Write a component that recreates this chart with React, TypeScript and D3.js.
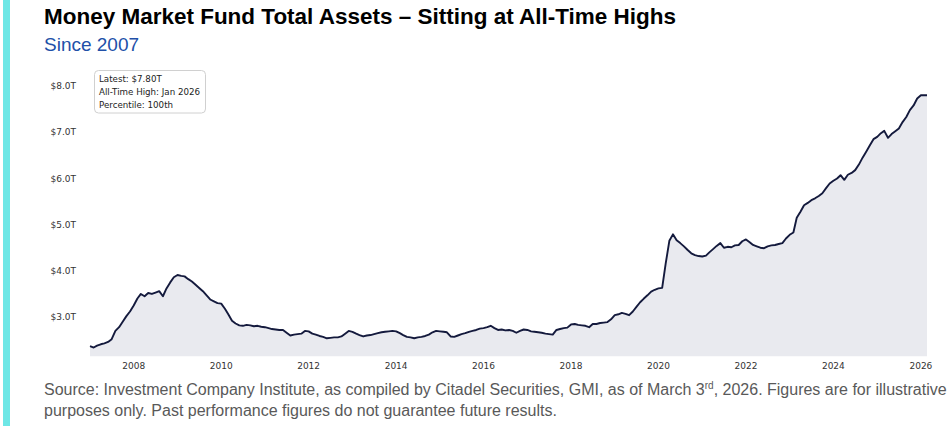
import React, { useEffect, useRef } from 'react';
import * as d3 from 'd3';

// Money market fund total assets, $T, month-end readings Jan 2007 – Feb 2026
const startMonth = '2007-01';
const assets = [
  2.37, 2.34, 2.38, 2.41, 2.43, 2.46, 2.52, 2.70, 2.78, 2.90, 3.02, 3.12, // 2007
  3.25, 3.40, 3.50, 3.45, 3.52, 3.50, 3.53, 3.56, 3.45, 3.62, 3.75, 3.86, // 2008
  3.91, 3.89, 3.88, 3.82, 3.77, 3.70, 3.63, 3.56, 3.47, 3.38, 3.34, 3.30, // 2009
  3.29, 3.18, 3.06, 2.92, 2.86, 2.82, 2.81, 2.83, 2.82, 2.80, 2.81, 2.79, // 2010
  2.78, 2.76, 2.74, 2.73, 2.72, 2.72, 2.66, 2.60, 2.62, 2.63, 2.64, 2.70, // 2011
  2.69, 2.64, 2.62, 2.59, 2.57, 2.54, 2.55, 2.56, 2.56, 2.58, 2.64, 2.70, // 2012
  2.68, 2.64, 2.61, 2.58, 2.60, 2.61, 2.63, 2.65, 2.67, 2.68, 2.69, 2.70, // 2013
  2.69, 2.65, 2.61, 2.57, 2.56, 2.54, 2.56, 2.57, 2.59, 2.62, 2.67, 2.70, // 2014
  2.69, 2.68, 2.67, 2.58, 2.57, 2.60, 2.63, 2.65, 2.68, 2.70, 2.72, 2.75, // 2015
  2.76, 2.78, 2.81, 2.76, 2.72, 2.73, 2.71, 2.72, 2.70, 2.66, 2.70, 2.73, // 2016
  2.72, 2.69, 2.68, 2.67, 2.66, 2.64, 2.63, 2.62, 2.72, 2.74, 2.76, 2.77, // 2017
  2.84, 2.85, 2.83, 2.82, 2.81, 2.78, 2.85, 2.85, 2.87, 2.88, 2.89, 2.95, // 2018
  3.04, 3.06, 3.09, 3.07, 3.04, 3.12, 3.22, 3.32, 3.40, 3.47, 3.55, 3.59, // 2019
  3.62, 3.63, 4.15, 4.65, 4.79, 4.66, 4.60, 4.53, 4.45, 4.38, 4.34, 4.32, // 2020
  4.31, 4.33, 4.40, 4.47, 4.54, 4.60, 4.50, 4.52, 4.51, 4.55, 4.56, 4.64, // 2021
  4.68, 4.62, 4.56, 4.53, 4.50, 4.49, 4.53, 4.55, 4.56, 4.58, 4.60, 4.70, // 2022
  4.78, 4.83, 5.15, 5.28, 5.42, 5.47, 5.53, 5.57, 5.62, 5.68, 5.79, 5.89, // 2023
  5.95, 6.00, 6.07, 5.97, 6.08, 6.12, 6.18, 6.30, 6.45, 6.58, 6.72, 6.85, // 2024
  6.90, 6.98, 7.03, 6.88, 6.96, 7.02, 7.08, 7.22, 7.33, 7.48, 7.58, 7.73, // 2025
  7.80, 7.80, // 2026
];

const yTicks = [3, 4, 5, 6, 7, 8];
const xTickYears = [2008, 2010, 2012, 2014, 2016, 2018, 2020, 2022, 2024, 2026];
const statLines = ['Latest: $7.80T', 'All-Time High: Jan 2026', 'Percentile: 100th'];

const title = 'Money Market Fund Total Assets \u2013 Sitting at All-Time Highs';
const subtitle = 'Since 2007';
const footer1 = 'Source: Investment Company Institute, as compiled by Citadel Securities, GMI, as of March 3';
const footer2 = 'purposes only. Past performance figures do not guarantee future results.';

const W = 949;
const H = 426;
const tickFont = '"DejaVu Sans", sans-serif';
const textFont = '"Liberation Sans", Arial, sans-serif';

const App: React.FC = () => {
  const svgRef = useRef<SVGSVGElement>(null);

  useEffect(() => {
    if (!svgRef.current) return;
    const svg = d3.select(svgRef.current);
    svg.selectAll('*').remove();

    const start = d3.timeParse('%Y-%m')(startMonth)!;
    const data = assets.map((v, i) => ({ date: d3.timeMonth.offset(start, i), value: v }));
    const lastDate = d3.timeDay.offset(data[data.length - 1].date, 20);
    data[data.length - 1] = { ...data[data.length - 1], date: lastDate };

    const x = d3.scaleTime()
      .domain([start, lastDate])
      .range([90, 927]);
    const y = d3.scaleLinear()
      .domain([2.15, 8.25])
      .range([356.3, 74.5]);

    // accent bar
    svg.append('rect')
      .attr('x', 3).attr('y', 0)
      .attr('width', 7).attr('height', H)
      .attr('fill', '#6ee7e6');

    svg.append('text')
      .attr('x', 44).attr('y', 24)
      .attr('font-family', textFont)
      .attr('font-weight', 700)
      .attr('font-size', 22)
      .attr('textLength', 632)
      .attr('lengthAdjust', 'spacingAndGlyphs')
      .attr('fill', '#000')
      .text(title);

    svg.append('text')
      .attr('x', 44).attr('y', 51)
      .attr('font-family', textFont)
      .attr('font-size', 19)
      .attr('fill', '#2150a8')
      .text(subtitle);

    const area = d3.area<{ date: Date; value: number }>()
      .x(d => x(d.date))
      .y0(y(2.15))
      .y1(d => y(d.value));
    const line = d3.line<{ date: Date; value: number }>()
      .x(d => x(d.date))
      .y(d => y(d.value));

    svg.append('path')
      .datum(data)
      .attr('d', area)
      .attr('fill', '#e9eaef');

    svg.append('path')
      .datum(data)
      .attr('d', line)
      .attr('fill', 'none')
      .attr('stroke', '#141a3d')
      .attr('stroke-width', 1.9)
      .attr('stroke-linejoin', 'round');

    // y tick labels
    svg.append('g')
      .selectAll('text')
      .data(yTicks)
      .join('text')
      .attr('x', 76)
      .attr('y', d => y(d))
      .attr('dy', '0.35em')
      .attr('text-anchor', 'end')
      .attr('font-family', tickFont)
      .attr('font-size', 9)
      .attr('fill', '#333')
      .text(d => `$${d.toFixed(1)}T`);

    // x tick labels
    svg.append('g')
      .selectAll('text')
      .data(xTickYears)
      .join('text')
      .attr('x', d => x(new Date(d, 0, 1)))
      .attr('y', 369)
      .attr('text-anchor', 'middle')
      .attr('font-family', tickFont)
      .attr('font-size', 9)
      .attr('fill', '#333')
      .text(d => String(d));

    // stats box
    const box = svg.append('g');
    box.append('rect')
      .attr('x', 94.5).attr('y', 70.5)
      .attr('width', 111).attr('height', 42.5)
      .attr('rx', 4)
      .attr('fill', '#fff')
      .attr('stroke', '#d0d0d0');
    box.selectAll('text')
      .data(statLines)
      .join('text')
      .attr('x', 99)
      .attr('y', (_, i) => 82 + i * 12.8)
      .attr('font-family', tickFont)
      .attr('font-size', 8.7)
      .attr('fill', '#222')
      .text(d => d);

    // footer
    const f1 = svg.append('text')
      .attr('x', 44).attr('y', 395)
      .attr('font-family', textFont)
      .attr('font-size', 16)
      .attr('fill', '#595959');
    f1.append('tspan').text(footer1);
    f1.append('tspan').attr('font-size', 10).attr('dy', -6).text('rd');
    f1.append('tspan').attr('dy', 6).text(', 2026. Figures are for illustrative');

    svg.append('text')
      .attr('x', 44).attr('y', 416)
      .attr('font-family', textFont)
      .attr('font-size', 16)
      .attr('fill', '#595959')
      .text(footer2);
  }, []);

  return (
    <svg
      ref={svgRef}
      width={W}
      height={H}
      style={{ position: 'absolute', left: 0, top: 0, background: '#fff' }}
    />
  );
};

export default App;
